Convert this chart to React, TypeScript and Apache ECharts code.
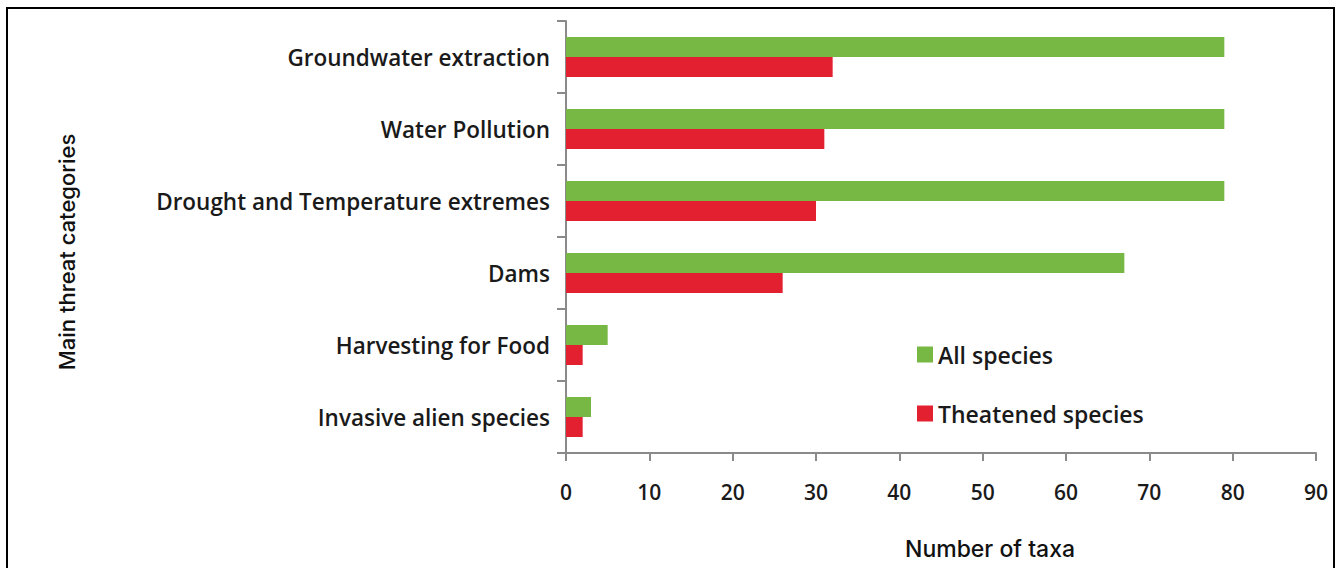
import React, { useEffect, useRef } from "react";
import * as echarts from "echarts";

const categories = [
  "Groundwater extraction",
  "Water Pollution",
  "Drought and Temperature extremes",
  "Dams",
  "Harvesting for Food",
  "Invasive alien species",
];
const allSpecies = [79, 79, 79, 67, 5, 3];
const threatenedSpecies = [32, 31, 30, 26, 2, 2];
const seriesNames = ["All species", "Theatened species"];
const xTicks = { min: 0, max: 90, interval: 10 };
const xTitle = "Number of taxa";
const yTitle = "Main threat categories";

const labelFont = "'Open Sans', 'DejaVu Sans', sans-serif";
const titleFont = "Inter, 'Liberation Sans', Arial, sans-serif";

export default function App() {
  const ref = useRef<HTMLDivElement>(null);
  useEffect(() => {
    if (!ref.current) return;
    const chart = echarts.init(ref.current, null, { renderer: "svg" });
    chart.setOption({
      animation: false,
      backgroundColor: "#ffffff",
      grid: { left: 566, right: 24, top: 21, bottom: 115, containLabel: false },
      legend: {
        orient: "vertical",
        left: 912,
        top: 338,
        itemWidth: 16,
        itemHeight: 16,
        itemGap: 36,
        icon: "rect",
        data: seriesNames,
        textStyle: {
          fontFamily: labelFont,
          fontSize: 23,
          fontWeight: 600,
          color: "#1a1a1a",
          lineHeight: 22,
        },
      },
      xAxis: {
        type: "value",
        min: xTicks.min,
        max: xTicks.max,
        interval: xTicks.interval,
        axisLine: { show: true, lineStyle: { color: "#8a8a8a", width: 2 } },
        axisTick: { show: true, length: 8, lineStyle: { color: "#8a8a8a", width: 2 } },
        splitLine: { show: false },
        axisLabel: {
          margin: 28,
          fontFamily: labelFont,
          fontSize: 21,
          fontWeight: 600,
          color: "#1a1a1a",
        },
      },
      yAxis: {
        type: "category",
        data: categories,
        inverse: true,
        axisLine: { show: true, lineStyle: { color: "#8a8a8a", width: 2 } },
        axisTick: { show: true, length: 9, lineStyle: { color: "#8a8a8a", width: 2 } },
        axisLabel: {
          margin: 16,
          fontFamily: labelFont,
          fontSize: 22.5,
          fontWeight: 600,
          color: "#1a1a1a",
          verticalAlign: "middle",
          lineHeight: 24,
          padding: [0, 0, 11, 0],
        },
      },
      graphic: [
        {
          type: "rect",
          shape: { x: 7, y: 8, width: 1327, height: 600 },
          style: { fill: "none", stroke: "#000000", lineWidth: 2 },
          silent: true,
          z: 100,
        },
        {
          type: "text",
          x: 67,
          y: 252,
          rotation: Math.PI / 2,
          style: {
            text: yTitle,
            fontFamily: titleFont,
            fontSize: 22,
            fontWeight: 500,
            fill: "#111111",
            align: "center",
            verticalAlign: "middle",
          },
        },
        {
          type: "text",
          x: 990,
          y: 549,
          style: {
            text: xTitle,
            fontFamily: titleFont,
            fontSize: 23,
            fontWeight: 500,
            fill: "#111111",
            align: "center",
            verticalAlign: "middle",
          },
        },
      ],
      series: [
        {
          name: seriesNames[0],
          type: "bar",
          data: allSpecies,
          barWidth: 20,
          barGap: "0%",
          itemStyle: { color: "#77b743" },
        },
        {
          name: seriesNames[1],
          type: "bar",
          data: threatenedSpecies,
          barWidth: 20,
          barGap: "0%",
          itemStyle: { color: "#e3202f" },
        },
      ],
    });
    return () => chart.dispose();
  }, []);
  return (
    <div
      ref={ref}
      style={{ position: "fixed", left: 0, top: 0, width: 1340, height: 568 }}
    />
  );
}
